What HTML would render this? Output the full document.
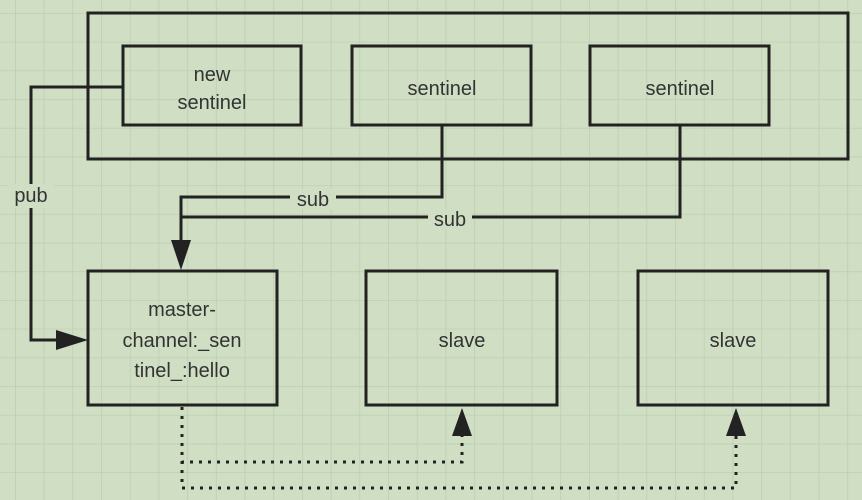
<!DOCTYPE html>
<html><head><style>
html,body{margin:0;padding:0;background:#d0dfc4;overflow:hidden;}
svg{display:block;}
svg text{font-family:"Liberation Sans","Noto Sans CJK SC",sans-serif;fill:#333;}
</style></head><body>
<svg width="862" height="500" xmlns="http://www.w3.org/2000/svg">
<defs>
<pattern id="g" x="15" y="13" width="28.7" height="28.7" patternUnits="userSpaceOnUse">
<path d="M0 0H28.7M0 0V28.7" stroke="#bccdb0" stroke-width="1.5" fill="none"/>
</pattern>
</defs>
<rect width="862" height="500" fill="#d0dfc4"/>
<rect width="862" height="500" fill="url(#g)"/>
<g fill="none" stroke="#222" stroke-width="3">
<rect x="88" y="13" width="760" height="146"/>
<rect x="123" y="46" width="178" height="79"/>
<rect x="352" y="46" width="179" height="79"/>
<rect x="590" y="46" width="179" height="79"/>
<rect x="88" y="271" width="189" height="134"/>
<rect x="366" y="271" width="191" height="134"/>
<rect x="638" y="271" width="190" height="134"/>
<path d="M123 87H31V340H62"/>
<path d="M442 125V197H181V242"/>
<path d="M680 125V217H181"/>
<g stroke-dasharray="3 6" stroke-width="3">
<path d="M182 407V462H462V436"/>
<path d="M182 407V488H736V436"/>
</g>
</g>
<g fill="#222">
<path d="M88 340L56 330V350Z"/>
<path d="M181 270L171 240H191Z"/>
<path d="M462 408L452 436H472Z"/>
<path d="M736 408L726 436H746Z"/>
</g>
<rect x="8" y="184" width="46" height="24" fill="#d0dfc4"/>
<rect x="290" y="189" width="46" height="20" fill="#d0dfc4"/>
<rect x="428" y="209" width="44" height="20" fill="#d0dfc4"/>
<g font-size="20" text-anchor="middle">
<text x="31" y="202">pub</text>
<text x="313" y="206">sub</text>
<text x="450" y="226">sub</text>
<text x="212" y="81">new</text>
<text x="212" y="109">sentinel</text>
<text x="442" y="95">sentinel</text>
<text x="680" y="95">sentinel</text>
<text x="182" y="316">master-</text>
<text x="182" y="347">channel:_sen</text>
<text x="182" y="377">tinel_:hello</text>
<text x="462" y="347">slave</text>
<text x="733" y="347">slave</text>
</g>
</svg>
</body></html>
